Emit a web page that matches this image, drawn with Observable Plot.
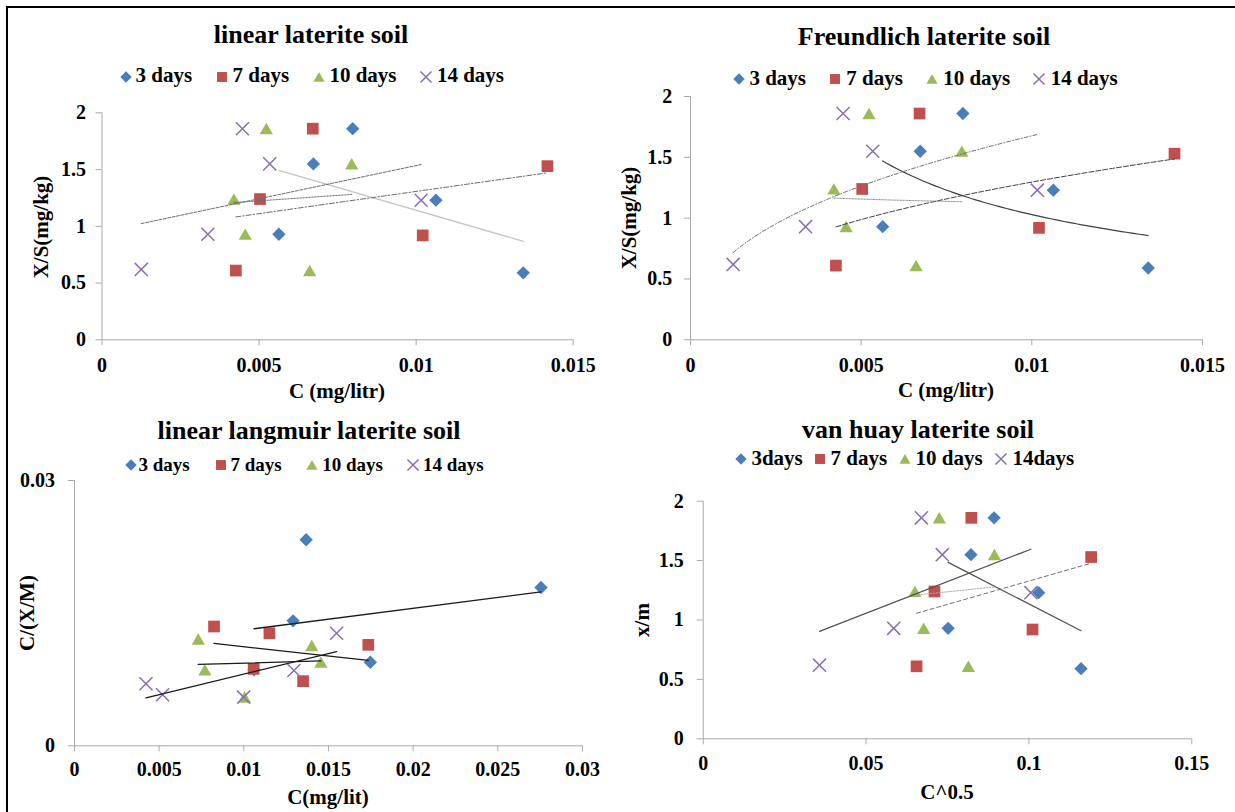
<!DOCTYPE html>
<html>
<head>
<meta charset="utf-8">
<script src="https://cdn.jsdelivr.net/npm/d3@7"></script>
<script src="https://cdn.jsdelivr.net/npm/@observablehq/plot@0.6"></script>
<style>
  html, body { margin: 0; padding: 0; background: #fff; }
  #wrap { position: relative; width: 1235px; height: 812px; overflow: hidden; background: #fff;
          font-family: "Liberation Serif", "Times New Roman", serif; font-weight: bold; color: #000; }
  .t { position: absolute; white-space: nowrap; line-height: 1; }
  .frame { position: absolute; background: #000; }
</style>
</head>
<body>
<div id="wrap">
  <div class="frame" style="left:6px;top:6px;width:1229px;height:2px"></div>
  <div class="frame" style="left:6px;top:6px;width:2px;height:806px"></div>
</div>
<script>
// ---------------- data ----------------
const seriesNames = ["3 days", "7 days", "10 days", "14 days"];
const vanHuayNames = ["3days", "7 days", "10 days", "14days"];

// Linear & Freundlich panels: C (mg/litr) vs X/S (mg/kg)
const c3  = [0.00798, 0.00673, 0.00563, 0.01063, 0.01341];
const xs3 = [1.86, 1.55, 0.93, 1.23, 0.59];
const c7  = [0.00671, 0.00503, 0.01021, 0.00426, 0.01418];
const xs7 = [1.86, 1.24, 0.92, 0.61, 1.53];
const c10  = [0.00523, 0.00795, 0.00420, 0.00456, 0.00661];
const xs10 = [1.86, 1.55, 1.24, 0.93, 0.61];
const c14  = [0.00447, 0.00534, 0.01016, 0.00337, 0.00125];
const xs14 = [1.86, 1.55, 1.23, 0.93, 0.62];

// Langmuir panel: C (mg/lit) vs C/(X/M)
const lc3  = [0.01368, 0.02755, 0.01291, 0.01747, 0.01060];
const ly3  = [0.0233, 0.0179, 0.01413, 0.00945, 0.0086];
const lc7  = [0.00824, 0.01151, 0.01735, 0.01058, 0.01350];
const ly7  = [0.01349, 0.01273, 0.01142, 0.0087, 0.00731];
const lc10 = [0.00731, 0.01401, 0.01455, 0.00770, 0.01004];
const ly10 = [0.01206, 0.01134, 0.00945, 0.00859, 0.0055];
const lc14 = [0.01548, 0.01296, 0.00422, 0.00520, 0.00999];
const ly14 = [0.01273, 0.00851, 0.00701, 0.00577, 0.0055];

// van Huay panel: C^0.5 vs x/m
const v3  = [0.0893, 0.0822, 0.0752, 0.1030, 0.1160];
const v7  = [0.0823, 0.0710, 0.1011, 0.0655, 0.1191];
const v10 = [0.0725, 0.0894, 0.0650, 0.0677, 0.0814];
const v14 = [0.0670, 0.0734, 0.1006, 0.0585, 0.0357];

// tick values
const ticksC = [0, 0.005, 0.01, 0.015];
const ticksXS = [0, 0.5, 1, 1.5, 2];
const ticksLangX = [0, 0.005, 0.01, 0.015, 0.02, 0.025, 0.03];
const ticksLangY = [0, 0.03];
const ticksVH = [0, 0.05, 0.1, 0.15];

// ---------------- styling ----------------
const SER = [
  {symbol: "diamond2", r: 6.0, fill: "#4a7ebb", stroke: "none", sw: 0, dy: 0, d3: d3.symbolDiamond2},
  {symbol: "square",   r: 6.6, fill: "#c0504d", stroke: "none", sw: 0, dy: 0, d3: d3.symbolSquare},
  {symbol: "triangle", r: 4.9, fill: "#9bbb59", stroke: "none", sw: 0, dy: 1.8, d3: d3.symbolTriangle},
  {symbol: "times",    r: 6.0, fill: "none", stroke: "#8a6fb0", sw: 1.5, dy: 0, d3: d3.symbolTimes}
];
const AX = "#a9a9a9";
const FONT = '"Liberation Serif", "Times New Roman", serif';
const wrap = document.getElementById("wrap");

const table = (xs, ys) => xs.map((x, i) => ({x, y: ys[i]}));
const fmt = d => String(+d.toFixed(4));

function powerFit(xs, ys, n = 60) {
  const lx = xs.map(Math.log), lyv = ys.map(Math.log);
  const mx = d3.mean(lx), my = d3.mean(lyv);
  const b = d3.sum(lx, (v, i) => (v - mx) * (lyv[i] - my)) / d3.sum(lx, v => (v - mx) ** 2);
  const a = Math.exp(my - b * mx);
  const [x0, x1] = d3.extent(xs);
  return d3.range(n + 1).map(i => { const x = x0 + (x1 - x0) * i / n; return {x, y: a * Math.pow(x, b)}; });
}

function dots(data, k) {
  const s = SER[k];
  return Plot.dot(data, {x: "x", y: "y", symbol: s.symbol, r: s.r, fill: s.fill,
                         stroke: s.stroke, strokeWidth: s.sw, dy: s.dy});
}

function addText(txt, o) {
  const el = document.createElement("div");
  el.className = "t";
  el.textContent = txt;
  el.style.fontSize = o.size + "px";
  if (o.rotate) {
    el.style.left = o.x + "px";
    el.style.top = o.y + "px";
    el.style.transform = "translate(-50%,-50%) rotate(-90deg)";
  } else {
    el.style.left = o.x + "px";
    el.style.top = (o.baseline - 0.8375 * o.size) + "px";
    if (o.center) el.style.transform = "translateX(-50%)";
  }
  wrap.appendChild(el);
}

function addLegend(names, symY, baseline, size, items) {
  items.forEach(([sx, tx], k) => {
    const s = SER[k];
    const svg = d3.create("svg").attr("width", 20).attr("height", 20)
      .style("position", "absolute").style("left", (sx - 10) + "px").style("top", (symY - 10) + "px");
    svg.append("path")
      .attr("transform", `translate(10,${10 + s.dy * 0.85})`)
      .attr("d", d3.symbol(s.d3, Math.PI * (s.r * 0.85) ** 2)())
      .attr("fill", s.fill).attr("stroke", s.stroke).attr("stroke-width", s.sw);
    wrap.appendChild(svg.node());
    addText(names[k], {x: tx, baseline, size});
  });
}

function panel(cfg) {
  const {left, top, width, height, xPix, yPix, xDomain, yDomain, xTicks, yTicks, xPad, yPad, marks} = cfg;
  const plot = Plot.plot({
    width, height,
    marginLeft: xPix[0] - left, marginRight: left + width - xPix[1],
    marginTop: yPix[1] - top, marginBottom: top + height - yPix[0],
    x: {domain: xDomain, nice: false},
    y: {domain: yDomain, nice: false},
    style: {fontFamily: FONT, fontSize: "20px", fontWeight: "bold", background: "transparent", overflow: "visible", color: "#000"},
    marks: [
      Plot.ruleY([0], {stroke: AX}),
      Plot.ruleX([0], {stroke: AX}),
      Plot.axisX({ticks: xTicks, tickFormat: fmt, tickSize: 6, tickPadding: xPad, stroke: AX, fill: "#000", label: null}),
      Plot.axisY({ticks: yTicks, tickFormat: fmt, tickSize: 6, tickPadding: yPad, stroke: AX, fill: "#000", label: null}),
      ...marks
    ]
  });
  plot.style.position = "absolute";
  plot.style.left = left + "px";
  plot.style.top = top + "px";
  wrap.appendChild(plot);
}

// ---------- Panel 1: linear laterite soil ----------
const p1 = [table(c3, xs3), table(c7, xs7), table(c10, xs10), table(c14, xs14)];
const lin1 = [
  {stroke: "#c4c4c4", dash: null, w: 1.3},
  {stroke: "#6b6b6b", dash: "5,2,1.5,2", w: 1},
  {stroke: "#6b6b6b", dash: "1.5,1.5", w: 1},
  {stroke: "#6b6b6b", dash: "3,1.5", w: 1}
];
panel({
  left: 55, top: 90, width: 555, height: 300,
  xPix: [101.5, 572.7], yPix: [339.3, 112.3],
  xDomain: [0, 0.015], yDomain: [0, 2], xTicks: ticksC, yTicks: ticksXS, xPad: 12, yPad: 10,
  marks: [
    ...p1.map((d, k) => dots(d, k)),
    ...p1.map((d, k) => Plot.linearRegressionY(d, {x: "x", y: "y", ci: 0, stroke: lin1[k].stroke,
        strokeWidth: lin1[k].w, strokeDasharray: lin1[k].dash}))
  ]
});
addText("linear laterite soil", {x: 311, baseline: 44, size: 26, center: true});
addLegend(seriesNames, 77, 83, 21, [[125.7, 135.6], [222.2, 232.5], [318.7, 329.4], [426.3, 436.9]]);
addText("C (mg/litr)", {x: 337, baseline: 399, size: 21, center: true});
addText("X/S(mg/kg)", {x: 40.5, y: 226.7, size: 21, rotate: true});

// ---------- Panel 2: Freundlich laterite soil ----------
const pow2 = [
  {stroke: "#404040", dash: null, w: 1.2},
  {stroke: "#404040", dash: "5,2", w: 1},
  {stroke: "#8a8a8a", dash: "1.5,1.5", w: 1},
  {stroke: "#707070", dash: "4,2,1,2", w: 1}
];
const srcXY = [[c3, xs3], [c7, xs7], [c10, xs10], [c14, xs14]];
panel({
  left: 640, top: 80, width: 590, height: 310,
  xPix: [690, 1202], yPix: [339.3, 96],
  xDomain: [0, 0.015], yDomain: [0, 2], xTicks: ticksC, yTicks: ticksXS, xPad: 12, yPad: 12.3,
  marks: [
    ...p1.map((d, k) => dots(d, k)),
    ...srcXY.map(([xs, ys], k) => Plot.line(powerFit(xs, ys), {x: "x", y: "y", stroke: pow2[k].stroke,
        strokeWidth: pow2[k].w, strokeDasharray: pow2[k].dash}))
  ]
});
addText("Freundlich laterite soil", {x: 924, baseline: 46, size: 26, center: true});
addLegend(seriesNames, 79, 86, 21, [[738.8, 749.4], [834.8, 846.3], [931.7, 943.2], [1039.3, 1050.7]]);
addText("C (mg/litr)", {x: 946, baseline: 398, size: 21, center: true});
addText("X/S(mg/kg)", {x: 629, y: 218, size: 21, rotate: true});

// ---------- Panel 3: linear langmuir laterite soil ----------
const p3 = [table(lc3, ly3), table(lc7, ly7), table(lc10, ly10), table(lc14, ly14)];
panel({
  left: 12, top: 470, width: 600, height: 330,
  xPix: [74, 582], yPix: [745.3, 480],
  xDomain: [0, 0.03], yDomain: [0, 0.03], xTicks: ticksLangX, yTicks: ticksLangY, xPad: 9.5, yPad: 13.4,
  marks: [
    ...p3.map((d, k) => dots(d, k)),
    ...p3.map((d) => Plot.linearRegressionY(d, {x: "x", y: "y", ci: 0, stroke: "#1a1a1a", strokeWidth: 1.3}))
  ]
});
addText("linear langmuir laterite soil", {x: 309, baseline: 440, size: 26, center: true});
addLegend(seriesNames, 465, 471, 19, [[130.5, 138.4], [221.4, 230.5], [312.4, 322.3], [413.2, 423]]);
addText("C(mg/lit)", {x: 328, baseline: 805, size: 21, center: true});
addText("C/(X/M)", {x: 27, y: 613, size: 21, rotate: true});

// ---------- Panel 4: van huay laterite soil ----------
const p4 = [table(v3, xs3), table(v7, xs7), table(v10, xs10), table(v14, xs14)];
const lin4 = [
  {stroke: "#505050", dash: null, w: 1.2},
  {stroke: "#707070", dash: "4,3", w: 1},
  {stroke: "#a6a6a6", dash: "1.5,1.5", w: 1},
  {stroke: "#505050", dash: null, w: 1.2}
];
panel({
  left: 650, top: 490, width: 580, height: 300,
  xPix: [702.7, 1191.3], yPix: [738.3, 500.7],
  xDomain: [0, 0.15], yDomain: [0, 2], xTicks: ticksVH, yTicks: ticksXS, xPad: 11.4, yPad: 13.4,
  marks: [
    ...p4.map((d, k) => dots(d, k)),
    ...p4.map((d, k) => Plot.linearRegressionY(d, {x: "x", y: "y", ci: 0, stroke: lin4[k].stroke,
        strokeWidth: lin4[k].w, strokeDasharray: lin4[k].dash}))
  ]
});
addText("van huay laterite soil", {x: 918, baseline: 439, size: 26, center: true});
addLegend(vanHuayNames, 459, 466, 21, [[740.7, 751.4], [820.2, 830.5], [904.8, 915.5], [1000.5, 1012.4]]);
addText("C^0.5", {x: 947, baseline: 800, size: 21, center: true});
addText("x/m", {x: 642, y: 620, size: 21, rotate: true});
</script>
</body>
</html>
